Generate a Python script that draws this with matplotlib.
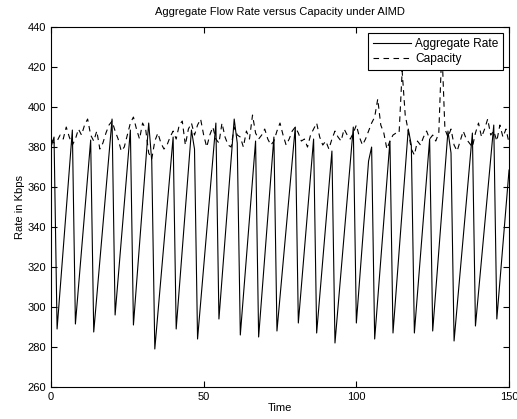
import numpy as np
import matplotlib
matplotlib.use("Agg")
import matplotlib.pyplot as plt

plt.rcParams['font.family'] = ['Liberation Sans', 'DejaVu Sans']

# aggregate rate: corners of the sawtooth (time, Kbps)
rate_t = [0, 1, 2, 7, 8, 13, 14, 20, 21, 26, 27, 32, 33, 34, 40, 41, 46, 47, 48,
          54, 55, 60, 61, 62, 67, 68, 73, 74, 80, 81, 86, 87, 92, 93, 99, 100,
          104, 105, 106, 111, 112, 117, 118, 119, 124, 125, 130, 131, 132,
          138, 139, 145, 146, 150]
rate_v = [380, 385, 289, 388.5, 291.5, 383.5, 287.5, 394, 296, 388.5, 291, 392, 373, 279,
          385, 289, 388.5, 379, 284, 392, 294, 394, 382, 286, 383, 285, 385, 288,
          390, 292, 384, 287, 378, 282, 390, 292, 373, 380, 284, 383, 287, 389, 381,
          287, 384, 288, 388, 377, 283, 387, 290.5, 391, 294, 368.5]

# capacity, one value per time step 0..150
capacity = [384, 382, 383, 386, 384, 390, 385, 381, 384, 389,
            386, 391, 394, 386, 383, 388, 379, 382, 387, 391,
            393, 388, 384, 378, 380, 386, 392, 395, 389, 384,
            392, 389, 377, 374, 383, 387, 382, 379, 381, 385,
            388, 384, 391, 393, 381, 389, 392, 386, 391, 394,
            386, 380, 386, 390, 384, 382, 392, 385, 381, 380,
            390, 386, 385, 380, 388, 384, 396, 387, 384, 386,
            389, 384, 381, 383, 388, 392, 386, 381, 384, 388,
            390, 387, 383, 384, 380, 386, 389, 392, 385, 381,
            383, 379, 384, 388, 385, 383, 389, 386, 384, 387,
            391, 385, 381, 384, 388, 392, 395, 404, 391, 387,
            379, 383, 386, 387, 387, 418, 396, 388, 379, 376,
            383, 381, 385, 388, 384, 386, 383, 387, 430, 389,
            385, 389, 381, 378, 383, 388, 384, 382, 380, 387,
            392, 385, 389, 394, 386, 388, 383, 391, 385, 389, 382]
cap_t = np.arange(len(capacity))

fig = plt.figure(figsize=(5.17, 4.19), dpi=100)
ax = fig.add_axes([0.0986, 0.0764, 0.886, 0.859])

ax.plot(rate_t, rate_v, color='black', lw=0.8, label='Aggregate Rate')
ax.plot(cap_t, capacity, color='black', lw=0.8, dashes=(5, 4), label='Capacity')

ax.set_xlim(0, 150)
ax.set_ylim(260, 440)
ax.set_xticks([0, 50, 100, 150])
ax.set_yticks(np.arange(260, 441, 20))
ax.tick_params(direction='in', top=True, right=True, labelsize=8, length=4, width=0.8)
for s in ax.spines.values():
    s.set_linewidth(0.8)

ax.set_title('Aggregate Flow Rate versus Capacity under AIMD', fontsize=8, pad=9)
ax.set_xlabel('Time', fontsize=8, labelpad=1)
ax.set_ylabel('Rate in Kbps', fontsize=8, labelpad=2)

leg = ax.legend(loc='upper right', fontsize=8.6, fancybox=False, framealpha=1,
                edgecolor='black', handlelength=3.2, borderpad=0.4,
                labelspacing=0.3, handletextpad=0.35, borderaxespad=0.5)
leg.get_frame().set_linewidth(0.8)
leg.set_zorder(5)

fig.savefig('out.png', dpi=100)
